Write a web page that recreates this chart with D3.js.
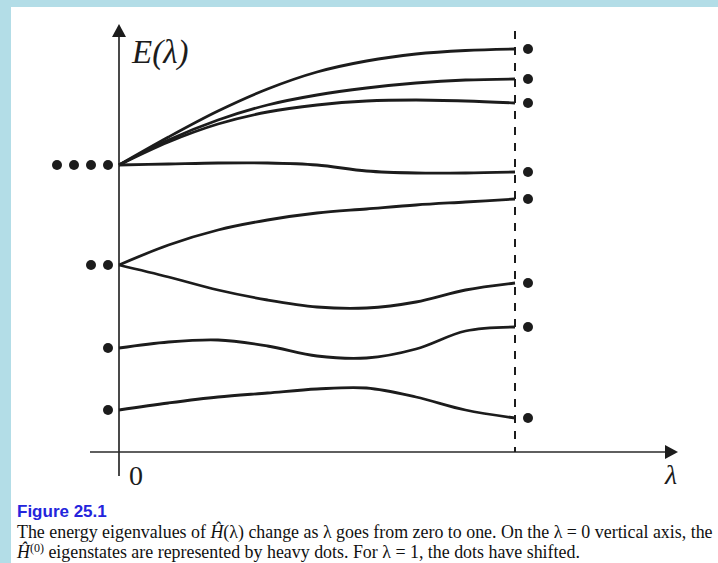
<!DOCTYPE html>
<html>
<head>
<meta charset="utf-8">
<script src="https://cdn.jsdelivr.net/npm/d3@7/dist/d3.min.js"></script>
<style>
  html, body { margin: 0; padding: 0; background: #b3dde7; }
  svg { display: block; }
</style>
</head>
<body>
<svg id="fig" width="718" height="563"></svg>
<script>
// Coupling parameter samples, from λ = 0 to λ = 1
const lambda = [0, 0.125, 0.25, 0.375, 0.5, 0.625, 0.75, 0.875, 1];

// Energy levels E(λ) for each eigenstate (arbitrary units)
const level1 = [28.7, 31.5, 34.1, 36.3, 38.0, 39.1, 39.8, 40.15, 40.3];
const level2 = [28.7, 31.2, 33.2, 34.7, 35.7, 36.4, 36.9, 37.2, 37.3];
const level3 = [28.7, 31.0, 32.8, 34.0, 34.7, 35.1, 35.2, 35.1, 34.9];
const level4 = [28.7, 28.8, 28.9, 28.9, 28.7, 28.1, 27.9, 27.9, 28.0];
const level5 = [18.7, 20.7, 22.2, 23.2, 23.9, 24.3, 24.7, 25.0, 25.3];
const level6 = [18.7, 17.5, 16.2, 15.2, 14.5, 14.4, 15.0, 16.2, 16.9];
const level7 = [10.4, 11.0, 11.2, 10.6, 9.6, 9.4, 10.3, 12.1, 12.5];
const level8 = [4.2, 4.9, 5.5, 5.9, 6.3, 6.4, 5.5, 4.2, 3.4];
const levels = [level1, level2, level3, level4, level5, level6, level7, level8];

// Unperturbed energies and their degeneracies (dots at λ = 0)
const unperturbedE = [28.7, 18.7, 10.4, 4.2];
const degeneracy = [4, 2, 1, 1];

// Text
const yLabel = "E(λ)";
const xLabel = "λ";
const originLabel = "0";
const figTitle = "Figure 25.1";

const svg = d3.select("#fig");

// white page panel
svg.append("rect").attr("x", 11).attr("y", 7).attr("width", 707).attr("height", 556).attr("fill", "#fff");

const x = d3.scaleLinear().domain([0, 1]).range([119, 515]);
const y = d3.scaleLinear().domain([0, 42.8]).range([452, 24]);

const ink = "#1c1c1c";
const x0 = x(0), y0 = y(0);

// vertical energy axis with arrowhead
svg.append("line").attr("x1", x0).attr("x2", x0).attr("y1", y0 + 24).attr("y2", y(42.8) + 10)
  .attr("stroke", "#2a2a2a").attr("stroke-width", 1.7);
svg.append("path")
  .attr("d", `M${x0},${y(42.8)} L${x0 - 7},${y(42.8) + 13} L${x0 + 7},${y(42.8) + 13} Z`)
  .attr("fill", ink);

// horizontal λ axis with arrowhead
const xTip = x(1) + 163;
svg.append("line").attr("x1", x0 - 29).attr("x2", xTip - 10).attr("y1", y0).attr("y2", y0)
  .attr("stroke", "#2a2a2a").attr("stroke-width", 1.7);
svg.append("path")
  .attr("d", `M${xTip},${y0} L${xTip - 13},${y0 - 7} L${xTip - 13},${y0 + 7} Z`)
  .attr("fill", ink);

// dashed marker at λ = 1
svg.append("line").attr("x1", x(1)).attr("x2", x(1)).attr("y1", y(42.1)).attr("y2", y0)
  .attr("stroke", ink).attr("stroke-width", 2).attr("stroke-dasharray", "8,8");

// energy level curves
const line = d3.line()
  .x((d, i) => x(lambda[i]))
  .y(d => y(d))
  .curve(d3.curveCatmullRom.alpha(0.5));

svg.append("g").selectAll("path").data(levels).join("path")
  .attr("d", line)
  .attr("fill", "none")
  .attr("stroke", ink)
  .attr("stroke-width", 2.8)
  .attr("stroke-linejoin", "round");

// degenerate unperturbed states, one dot per state to the left of the axis
const leftDots = [];
unperturbedE.forEach((e, k) => {
  for (let j = 0; j < degeneracy[k]; j++) leftDots.push({ e, j });
});
svg.append("g").selectAll("circle").data(leftDots).join("circle")
  .attr("cx", d => x0 - 11 - d.j * 17)
  .attr("cy", d => y(d.e))
  .attr("r", 5)
  .attr("fill", ink);

// shifted states at λ = 1
svg.append("g").selectAll("circle").data(levels).join("circle")
  .attr("cx", x(1) + 13)
  .attr("cy", d => y(d[d.length - 1]))
  .attr("r", 5)
  .attr("fill", ink);

// axis labels
const serif = "'Liberation Serif', 'Times New Roman', serif";
svg.append("text").attr("x", x0 + 13).attr("y", 63)
  .attr("font-family", serif).attr("font-style", "italic").attr("font-size", 33)
  .attr("fill", ink).text(yLabel);
svg.append("text").attr("x", x0 + 10).attr("y", 485)
  .attr("font-family", serif).attr("font-size", 28)
  .attr("fill", ink).text(originLabel);
svg.append("text").attr("x", xTip - 13).attr("y", 484)
  .attr("font-family", serif).attr("font-style", "italic").attr("font-size", 28)
  .attr("fill", ink).text(xLabel);

// caption
svg.append("text").attr("x", 17).attr("y", 517)
  .attr("font-family", "'Liberation Sans', Arial, sans-serif").attr("font-weight", "bold")
  .attr("font-size", 17).attr("fill", "#2424dc").text(figTitle);

const cap1 = svg.append("text").attr("x", 17).attr("y", 538)
  .attr("font-family", serif).attr("font-size", 17.9).attr("fill", "#111");
cap1.append("tspan").text("The energy eigenvalues of ");
cap1.append("tspan").attr("font-style", "italic").text("H\u0302");
cap1.append("tspan").text("(λ) change as λ goes from zero to one. On the λ = 0 vertical axis, the");

const cap2 = svg.append("text").attr("x", 17).attr("y", 558)
  .attr("font-family", serif).attr("font-size", 17.9).attr("fill", "#111");
cap2.append("tspan").attr("font-style", "italic").text("H\u0302");
cap2.append("tspan").attr("font-size", 12).attr("dy", -6).text("(0)");
cap2.append("tspan").attr("dy", 6).text(" eigenstates are represented by heavy dots. For λ = 1, the dots have shifted.");
</script>
</body>
</html>
